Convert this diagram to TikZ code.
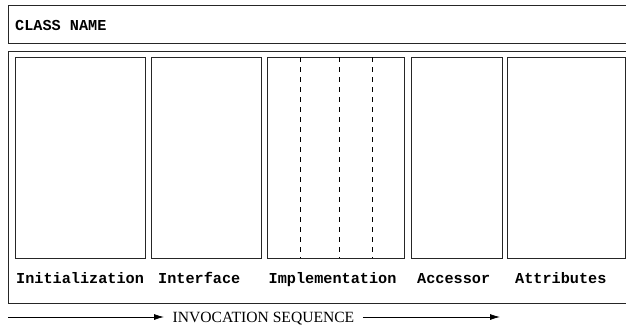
\documentclass[tikz,border=0pt]{standalone}
\usepackage{fontspec}
\setmainfont{Liberation Serif}
\newfontfamily\codefont{Liberation Mono}
\usetikzlibrary{arrows.meta}
\begin{document}
\begin{tikzpicture}[x=1pt,y=-1pt,
  frame/.style={draw=black!85,line width=0.9pt},
  part/.style={draw=black!85,line width=0.9pt},
  split/.style={draw=black,line width=0.7pt,dash pattern=on 5pt off 5pt},
  code/.style={font=\codefont\bfseries\fontsize{15.2}{18}\selectfont,anchor=base west,inner sep=0pt},
  flow/.style={line width=0.8pt,-{Latex[length=10pt,width=6pt]}}]
\useasboundingbox (0,0) rectangle (626,325);
% class name strip and body frame, both running off the right edge
\draw[frame] (640,5) -| (8,43.5) -- (640,43.5);
\draw[frame] (640,51) -| (8,303) -- (640,303);
\node[code] (cname) at (15,30.7) {CLASS NAME};
% component boxes
\draw[part] (15,57) rectangle (145,258);
\draw[part] (151,57) rectangle (261.5,258);
\draw[part] (267.5,57) rectangle (404,258);
\draw[part] (411,57) rectangle (502,258);
\draw[part] (507.5,57) rectangle (625,258);
% dividers inside the implementation box
\foreach \xx in {300.5,339.5,372.5}
  \draw[split] (\xx,57) -- (\xx,258);
% component labels
\node[code] (l1) at (16,283.3) {Initialization};
\node[code] (l2) at (158,283.3) {Interface};
\node[code] (l3) at (268.5,283.3) {Implementation};
\node[code] (l4) at (417,283.3) {Accessor};
\node[code] (l5) at (515,283.3) {Attributes};
% invocation sequence arrow
\coordinate (s0) at (8,317);
\coordinate (s1) at (500,317);
\node[font=\fontsize{15.6}{18}\selectfont,inner xsep=8.5pt,inner ysep=0pt,anchor=base] (seq) at (263.5,322.5) {INVOCATION SEQUENCE};
\draw[flow] (s0) -- (s0 -| seq.west);
\draw[flow] (s1 -| seq.east) -- (s1);
\end{tikzpicture}
\end{document}
